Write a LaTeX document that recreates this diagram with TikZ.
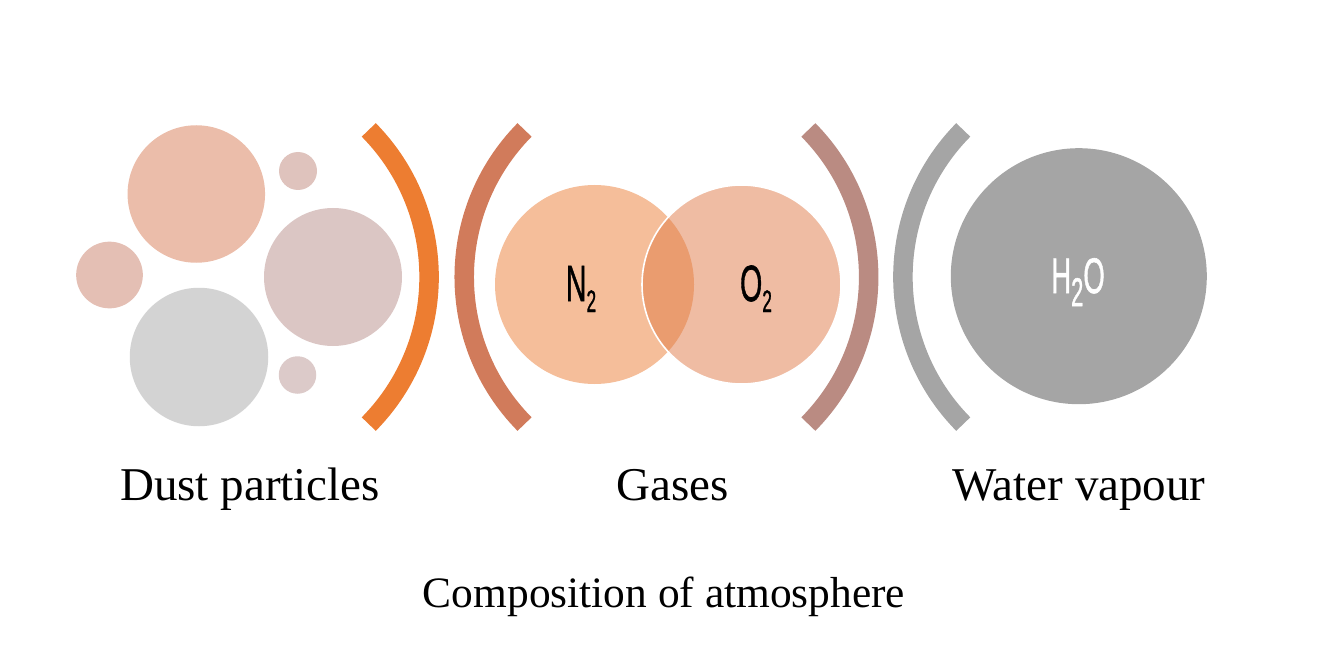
\documentclass[tikz,border=0pt]{standalone}
\usepackage{fontspec}
\setmainfont{Liberation Serif}
\newfontfamily\chemfont[FakeBold=1.3]{Liberation Sans}
\usepackage{graphicx}
\definecolor{cPeachA}{HTML}{EBBDAA}
\definecolor{cRoseS}{HTML}{DFC3BD}
\definecolor{cRoseM}{HTML}{DBC6C4}
\definecolor{cRoseL}{HTML}{E4BFB4}
\definecolor{cGrayL}{HTML}{D3D3D3}
\definecolor{cRoseB}{HTML}{DCCAC9}
\definecolor{cOrange}{HTML}{ED7D31}
\definecolor{cRust}{HTML}{D17B5B}
\definecolor{cMauve}{HTML}{BA8B82}
\definecolor{cGray}{HTML}{A5A5A5}
\definecolor{cNitro}{HTML}{F5BE9A}
\definecolor{cOxy}{HTML}{EFBCA3}
\definecolor{cLens}{HTML}{EA9C6F}
\tikzset{
  blob/.style={circle, inner sep=0pt, draw=none},
  bracket/.style={line width=19.5pt, line cap=butt},
  label/.style={anchor=base, inner sep=0pt, font=\fontsize{47}{56}\selectfont},
  chem/.style={anchor=base, inner sep=0pt},
}
\begin{document}
\begin{tikzpicture}[x=1pt,y=-1pt]
\useasboundingbox (0,0) rectangle (1333,647);
% dust particles
\node[blob, fill=cPeachA, minimum size=137.5pt] (d1) at (196.3,194) {};
\node[blob, fill=cRoseS, minimum size=38pt] (d2) at (298,171) {};
\node[blob, fill=cRoseM, minimum size=138pt] (d3) at (333,277) {};
\node[blob, fill=cRoseL, minimum size=66.7pt] (d4) at (109.5,275) {};
\node[blob, fill=cGrayL, minimum size=138.5pt] (d5) at (199,357) {};
\node[blob, fill=cRoseB, minimum size=37.5pt] (d6) at (297.5,375) {};
% brackets
\coordinate (b1c) at (219.6,277);
\coordinate (b2c) at (673.7,277);
\coordinate (b3c) at (659.2,277);
\coordinate (b4c) at (1112.4,277);
\draw[bracket, cOrange] (b1c) ++(-44.6:209.5) arc[start angle=-44.6, end angle=44.6, radius=209.5];
\draw[bracket, cRust] (b2c) ++(135.4:209.5) arc[start angle=135.4, end angle=224.6, radius=209.5];
\draw[bracket, cMauve] (b3c) ++(-44.6:209.5) arc[start angle=-44.6, end angle=44.6, radius=209.5];
\draw[bracket, cGray] (b4c) ++(135.4:209.5) arc[start angle=135.4, end angle=224.6, radius=209.5];
% gases
\node[blob, fill=cNitro, minimum size=199pt] (n2c) at (594.5,284.5) {};
\node[blob, fill=cOxy, minimum size=199pt] (o2c) at (741.5,284.5) {};
\begin{scope}
  \clip (n2c.center) circle (99.5);
  \fill[cLens] (o2c.center) circle (99.5);
\end{scope}
\draw[white, line width=1.6pt] (o2c.center) circle (99.5);
% water vapour
\node[blob, fill=cGray, minimum size=256pt] (h2oc) at (1078.8,276.2) {};
% molecule labels
\node[chem] (n2t) at (581,301) {\scalebox{0.56}[1]{\chemfont\fontsize{51}{60}\selectfont N\raisebox{-11pt}{\fontsize{31}{36}\selectfont 2}}};
\node[chem] (o2t) at (756,301) {\scalebox{0.56}[1]{\chemfont\fontsize{51}{60}\selectfont O\raisebox{-11pt}{\fontsize{31}{36}\selectfont 2}}};
\node[chem, text=white] (h2ot) at (1078,293) {\scalebox{0.55}[1]{\chemfont\fontsize{50}{60}\selectfont H\raisebox{-13pt}{\fontsize{40}{48}\selectfont 2}O}};
% captions
\node[label] (dust) at (250,500) {Dust particles};
\node[label] (gas) at (672.5,500) {Gases};
\node[label] (water) at (1079,500) {Water vapour};
\node[label, font=\fontsize{43.4}{52}\selectfont] (title) at (664,607) {Composition of atmosphere};
\end{tikzpicture}
\end{document}
